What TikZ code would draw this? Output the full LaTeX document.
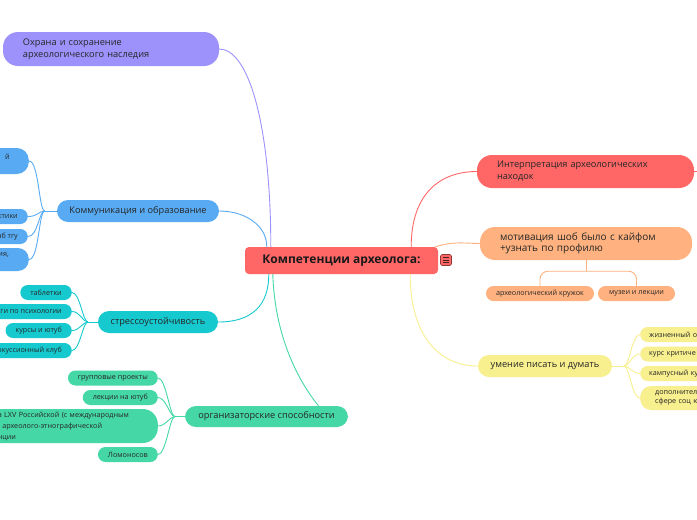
\documentclass[tikz,border=0pt]{standalone}
\usepackage{fontspec}
\setmainfont{Open Sans}
\usetikzlibrary{backgrounds}
\definecolor{rootred}{HTML}{FF6767}
\definecolor{purplebr}{HTML}{9D92FC}
\definecolor{bluebr}{HTML}{58ABF2}
\definecolor{tealbr}{HTML}{16C9CF}
\definecolor{greenbr}{HTML}{45D7A6}
\definecolor{orangebr}{HTML}{FFB27F}
\definecolor{yellowbr}{HTML}{F8EF8E}
\tikzset{
  rootbox/.style={fill=rootred, rounded corners=4pt, minimum width=193, minimum height=27, inner sep=0pt, text=black!90, font=\fontsize{12}{14}\selectfont\bfseries},
  topicbox/.style={rounded corners=11pt, minimum height=22, inner sep=0pt, text=black!85, font=\fontsize{9.2}{12}\selectfont},
  bigtopic/.style={rounded corners=15pt, align=left, inner xsep=20pt, inner ysep=0pt, text=black!85, font=\fontsize{9.2}{12}\selectfont},
  leafbox/.style={rounded corners=7.5pt, minimum height=15, inner ysep=0pt, inner xsep=10pt, text=black!85, font=\fontsize{7.2}{9}\selectfont},
  link/.style={line width=0.9pt}
}
\begin{document}
\begin{tikzpicture}[x=1pt, y=-1pt]
  \useasboundingbox (0,0) rectangle (697,520);
  \clip (0,0) rectangle (697,520);

  % centre
  \node[rootbox] (root) at (341.5,260.5) {Компетенции археолога:};
  \node[fill=rootred, draw=rootred!55!black, rounded corners=1.5pt, minimum size=11, inner sep=0pt, line width=0.6pt] (menu) at (446,260) {};
  \foreach \dy in {-2.5,0,2.5}
    \draw[line width=0.8pt, rootred!30!black] ([xshift=-3pt, yshift=\dy pt]menu.center) -- ([xshift=3pt, yshift=\dy pt]menu.center);

  % left branches
  \node[bigtopic, fill=purplebr, text width=176, minimum height=34] (heritage) at (111,49) {Охрана и сохранение\\археологического наследия};
  \node[topicbox, fill=bluebr, minimum width=162] (comm) at (138,211) {Коммуникация и образование};
  \node[topicbox, fill=tealbr, minimum width=120] (stress) at (158,322) {стрессоустойчивость};
  \node[topicbox, fill=greenbr, minimum width=163, minimum height=21] (orgs) at (266.5,416.5) {организаторские способности};

  % right branches
  \node[bigtopic, fill=rootred, text width=177, minimum height=33] (interp) at (585.5,171.5) {Интерпретация археологических\\находок};
  \node[bigtopic, fill=orangebr, text width=172, minimum height=33, font=\fontsize{10}{11.5}\selectfont] (motiv) at (586,243.5) {мотивация шоб было с кайфом\\+узнать по профилю};
  \node[topicbox, fill=yellowbr, minimum width=134] (write) at (545,366) {умение писать и думать};

  % communication leaves
  \node[leafbox, fill=bluebr, anchor=east, align=right, minimum height=26, inner xsep=19pt, rounded corners=12pt] (comm1) at (29,161) {й\\\mbox{}};
  \node[leafbox, fill=bluebr, anchor=east] (comm2) at (28,216.5) {ктики};
  \node[leafbox, fill=bluebr, anchor=east] (comm3) at (28,236.5) {нб тгу};
  \node[leafbox, fill=bluebr, anchor=east, align=right, minimum height=23, inner xsep=20pt, rounded corners=11pt] (comm4) at (29,259.5) {ия,\\\mbox{}};

  % stress leaves
  \node[leafbox, fill=tealbr, anchor=east] (tablets) at (72,292.5) {таблетки};
  \node[leafbox, fill=tealbr, anchor=east] (psych) at (72,311.5) {ги по психологии};
  \node[leafbox, fill=tealbr, anchor=east] (courses) at (72,330.5) {курсы и ютуб};
  \node[leafbox, fill=tealbr, anchor=east] (club) at (72,350.5) {окуссионный клуб};

  % organising leaves
  \node[leafbox, fill=greenbr, anchor=east] (proj) at (158,378) {групповые проекты};
  \node[leafbox, fill=greenbr, anchor=east] (lect) at (158,397.5) {лекции на ютуб};
  \node[leafbox, fill=greenbr, anchor=east, align=left, text width=140, inner xsep=20pt, minimum height=34, rounded corners=15pt, font=\fontsize{7.2}{11}\selectfont] (conf) at (158,426) {а LXV Российской (с международным\\) археолого-этнографической\\нции};
  \node[leafbox, fill=greenbr, anchor=east] (lomon) at (158,454.5) {Ломоносов};

  % motivation leaves
  \node[leafbox, fill=orangebr, minimum width=108] (arch) at (540,293.5) {археологический кружок};
  \node[leafbox, fill=orangebr, minimum width=77] (museum) at (636.5,293.5) {музеи и лекции};

  % writing leaves
  \node[leafbox, fill=yellowbr, anchor=west, align=left, text width=70, inner xsep=9pt] (life) at (640,334.5) {жизненный о};
  \node[leafbox, fill=yellowbr, anchor=west, align=left, text width=70, inner xsep=9pt] (crit) at (640,354) {курс критиче};
  \node[leafbox, fill=yellowbr, anchor=west, align=left, text width=70, inner xsep=9pt] (camp) at (640,373.5) {кампусный ку};
  \node[leafbox, fill=yellowbr, anchor=west, align=left, text width=70, inner xsep=15pt, minimum height=24, rounded corners=11pt] (extra) at (640,398) {дополнител\\сфере соц ю};

  \begin{scope}[on background layer]
    \fill[white] (0,0) rectangle (697,520);
    \coordinate (rootP) at ([xshift=26pt]root.north west);
    \coordinate (rootB) at ([xshift=22pt]root.north west);
    \coordinate (rootT) at ([xshift=24pt]root.south west);
    \coordinate (rootG) at ([xshift=28pt]root.south west);
    \coordinate (rootR) at ([xshift=-27pt]root.north east);
    \coordinate (rootO) at ([xshift=-3pt]root.north east);
    \coordinate (rootY) at ([xshift=-28pt]root.south east);
    \coordinate (orgstop) at ([xshift=52pt]orgs.north);
    \coordinate (interpout) at ([xshift=12pt]interp.east);

    \draw[link, purplebr] (heritage.east) .. controls +(30,0) and +(0,-120) .. (rootP);
    \draw[link, bluebr] (comm.east) .. controls +(25,0) and +(0,-22) .. (rootB);
    \draw[link, tealbr] (stress.east) .. controls +(35,0) and +(0,30) .. (rootT);
    \draw[link, greenbr] (rootG) .. controls +(2,65) and +(-18,-22) .. (orgstop);
    \draw[link, rootred] (rootR) .. controls +(0,-55) and +(-35,0) .. (interp.west);
    \draw[link, orangebr] (rootO) .. controls +(20,-6) and +(-15,0) .. (motiv.west);
    \draw[link, yellowbr] (rootY) .. controls +(0,60) and +(-40,0) .. (write.west);
    \draw[link, rootred] (interp.east) -- (interpout);

    % fans
    \coordinate (commfork) at ([xshift=-12pt]comm.west);
    \draw[link, bluebr] (comm.west) -- (commfork);
    \foreach \leaf in {comm1,comm2,comm3,comm4}
      \draw[link, bluebr] (commfork) .. controls +(-6,0) and +(10,0) .. (\leaf.east);

    \coordinate (stressfork) at ([xshift=-10pt]stress.west);
    \draw[link, tealbr] (stress.west) -- (stressfork);
    \foreach \leaf in {tablets,psych,courses,club}
      \draw[link, tealbr] (stressfork) .. controls +(-5,0) and +(8,0) .. (\leaf.east);

    \coordinate (orgsfork) at ([xshift=-10pt]orgs.west);
    \draw[link, greenbr] (orgs.west) -- (orgsfork);
    \foreach \leaf in {proj,lect,conf,lomon}
      \draw[link, greenbr] (orgsfork) .. controls +(-5,0) and +(8,0) .. (\leaf.east);

    \coordinate (writefork) at ([xshift=12pt]write.east);
    \draw[link, yellowbr] (write.east) -- (writefork);
    \foreach \leaf in {life,crit,camp,extra}
      \draw[link, yellowbr] (writefork) .. controls +(5,0) and +(-8,0) .. (\leaf.west);

    \coordinate (motivfork) at ([yshift=-11pt]motiv.south);
    \draw[link, orangebr] (motiv.south) -- (motivfork);
    \draw[link, orangebr, rounded corners=8pt] (motivfork) -| (arch.north);
    \draw[link, orangebr, rounded corners=8pt] (motivfork) -| (museum.north);
  \end{scope}
\end{tikzpicture}
\end{document}
